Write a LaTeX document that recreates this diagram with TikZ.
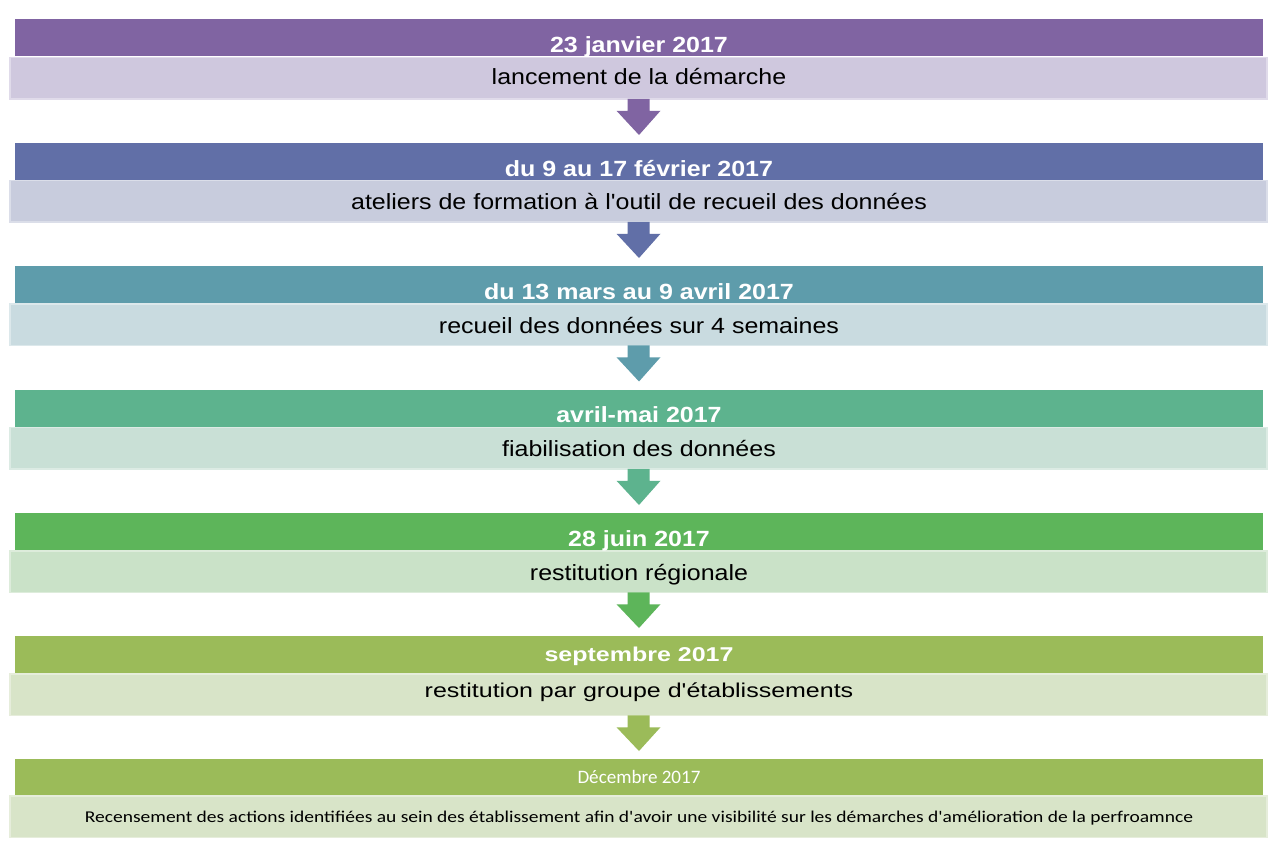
\documentclass[tikz,border=0pt]{standalone}
\usepackage{fontspec}
\setmainfont{Liberation Sans}
\newfontfamily\calibfont{Carlito}
\usepackage{graphicx}
\usetikzlibrary{calc}
\definecolor{dA}{HTML}{8064A2}\definecolor{lA}{HTML}{CFC8DE}
\definecolor{dB}{HTML}{616FA7}\definecolor{lB}{HTML}{C8CCDD}
\definecolor{dC}{HTML}{5E9CAB}\definecolor{lC}{HTML}{C9DBE0}
\definecolor{dD}{HTML}{5DB38E}\definecolor{lD}{HTML}{C9E0D6}
\definecolor{dE}{HTML}{5DB55A}\definecolor{lE}{HTML}{CAE2C8}
\definecolor{dF}{HTML}{9BBB59}\definecolor{lF}{HTML}{D8E4C8}
\tikzset{
  darkbar/.style={fill=#1, draw=none, minimum width=1248pt, minimum height=37pt, inner sep=0pt, outer sep=0pt},
  lightbar/.style={fill=#1, draw=#1!65!white, line width=1.5pt, minimum width=1257pt, minimum height=41.5pt, inner sep=0pt, outer sep=0pt},
  datetext/.style={text=white, font=\fontsize{22}{22}\selectfont\bfseries, anchor=base, inner sep=0pt},
  steptext/.style={text=black, font=\fontsize{22}{22}\selectfont, anchor=base, inner sep=0pt},
  smalltext/.style={font=\calibfont\fontsize{#1}{#1}\selectfont, anchor=base, inner sep=0pt},
}
\newcommand\blockarrow[3]{%
  \fill[#1] ($(#2.south)+(-11,0)$) -- ($(#2.south)+(-11,12)$) -- ($(#2.south)+(-22,12)$)
    -- ($(#3.north)+(0,-8)$) -- ($(#2.south)+(22,12)$) -- ($(#2.south)+(11,12)$)
    -- ($(#2.south)+(11,0)$) -- cycle;}
\newcommand\wide[1]{\scalebox{1.136}[1]{#1}}
\newcommand\apos{\textquotesingle}
\begin{document}
\begin{tikzpicture}[x=1pt,y=-1pt]
\useasboundingbox (0,0) rectangle (1274,855);
\fill[white] (0,0) rectangle (1274,855);
% bars
\node[darkbar=dA] (d1) at (639,37.5) {};
\node[lightbar=lA] (l1) at (638.5,78) {};
\node[darkbar=dB] (d2) at (639,161.5) {};
\node[lightbar=lB] (l2) at (638.5,201) {};
\node[darkbar=dC] (d3) at (639,284.5) {};
\node[lightbar=lC] (l3) at (638.5,324.5) {};
\node[darkbar=dD] (d4) at (639,408) {};
\node[lightbar=lD] (l4) at (638.5,448) {};
\node[darkbar=dE] (d5) at (639,531.5) {};
\node[lightbar=lE] (l5) at (638.5,571.5) {};
\node[darkbar=dF] (d6) at (639,654.5) {};
\node[lightbar=lF] (l6) at (638.5,694.5) {};
\node[darkbar=dF, minimum height=36pt] (d7) at (639,777) {};
\node[lightbar=lF] (l7) at (638.5,816.5) {};
% arrows
\blockarrow{dA}{l1}{d2}
\blockarrow{dB}{l2}{d3}
\blockarrow{dC}{l3}{d4}
\blockarrow{dD}{l4}{d5}
\blockarrow{dE}{l5}{d6}
\blockarrow{dF}{l6}{d7}
% texts
\node[datetext] (t1) at (639,52) {\wide{23 janvier 2017}};
\node[steptext] (s1) at (639,84) {\wide{lancement de la démarche}};
\node[datetext] (t2) at (639,176) {\wide{du 9 au 17 février 2017}};
\node[steptext] (s2) at (639,209) {\wide{ateliers de formation à l\apos outil de recueil des données}};
\node[datetext] (t3) at (639,299) {\wide{du 13 mars au 9 avril 2017}};
\node[steptext] (s3) at (639,333) {\wide{recueil des données sur 4 semaines}};
\node[datetext] (t4) at (639,422) {\wide{avril-mai 2017}};
\node[steptext] (s4) at (639,456) {\wide{fiabilisation des données}};
\node[datetext] (t5) at (639,546) {\wide{28 juin 2017}};
\node[steptext] (s5) at (639,580) {\wide{restitution régionale}};
\node[datetext, font=\fontsize{20}{20}\selectfont\bfseries] (t6) at (639,661) {\scalebox{1.25}[1]{septembre 2017}};
\node[steptext, font=\fontsize{20}{20}\selectfont] (s6) at (639,697) {\scalebox{1.25}[1]{restitution par groupe d\apos établissements}};
\node[smalltext=19, text=white] (t7) at (639,783) {\resizebox{123pt}{\height}{Décembre 2017}};
\node[smalltext=16.5, text=black] (s7) at (639,822) {\resizebox{1108pt}{\height}{Recensement des actions identifiées au sein des établissement afin d\apos avoir une visibilité sur les démarches d\apos amélioration de la perfroamnce}};
\end{tikzpicture}
\end{document}
